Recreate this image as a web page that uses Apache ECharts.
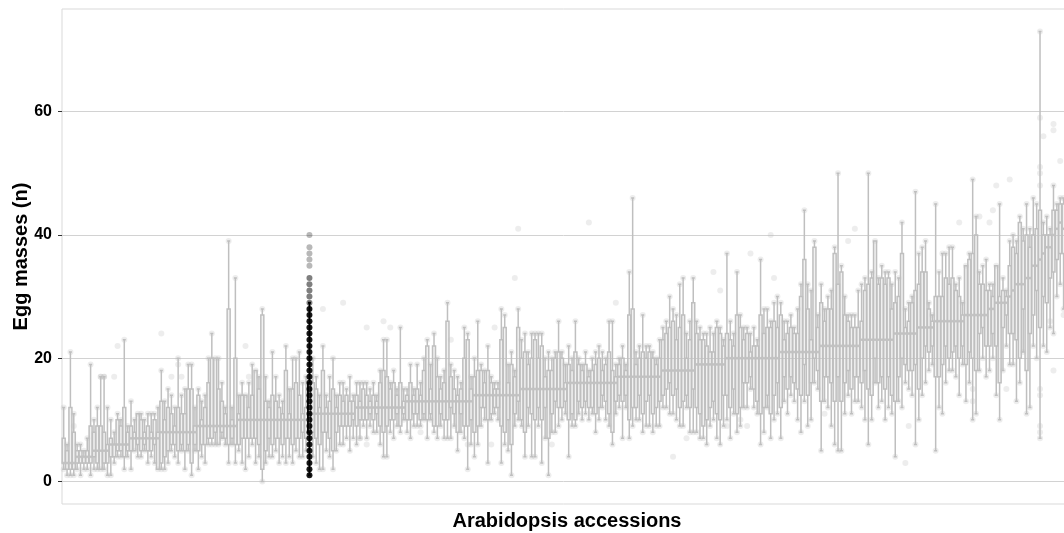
<!DOCTYPE html>
<html>
<head>
<meta charset="utf-8">
<title>Egg masses per Arabidopsis accession</title>
<script src="https://cdn.jsdelivr.net/npm/echarts@6/dist/echarts.min.js"></script>
<style>
  html, body { margin: 0; padding: 0; background: #fff; }
  #chart { width: 1064px; height: 533px; }
</style>
</head>
<body>
<div id="chart"></div>
<script>
// each box: [lower whisker, Q1, median, Q3, upper whisker], accessions sorted by median
const med03 = [[2,3,3,7,12],[1,2,3,5,6],[1,2,3,12,21],[1,2,3,8,11]];
const med04 = [[2,3,4,5,6],[1,3,4,5,6],[2,3,4,4,5],[2,3,4,5,7],[1,3,4,9,19]];
const med05 = [[2,4,5,8,10],[2,3,5,9,12],[2,2,5,9,17],[2,3,5,8,17],[1,3,5,6,12]];
const med06 = [[1,4,6,7,10],[3,4,6,6,8],[4,5,6,10,11],[4,5,6,9,10],[2,4,6,12,23],[4,5,6,8,9]];
const med07 = [[2,5,7,9,13],[5,5,7,8,10],[4,6,7,11,11],[4,5,7,10,11],[5,6,7,8,10],[3,5,7,9,11],[4,5,7,8,11],[3,6,7,10,11],[2,2,7,8,12]];
const med08 = [[2,3,8,13,18],[2,4,8,10,13],[3,5,8,12,15],[5,6,8,11,14],[4,6,8,9,12],[3,5,8,12,20],[5,6,8,11,14],[2,5,8,11,15],[5,6,8,15,19],[1,3,8,15,19],[5,6,8,9,12]];
const med09 = [[2,5,9,14,15],[4,6,9,10,13],[3,6,9,12,14],[6,7,9,16,20],[6,7,9,20,24],[6,8,9,20,20],[6,6,9,15,20],[7,8,9,13,16],[6,7,9,11,12],[3,6,9,28,39],[6,7,9,10,12],[3,6,9,20,33]];
const med10 = [[5,6,10,11,14],[3,7,10,14,16],[2,7,10,14,14],[4,7,10,12,16],[6,7,10,14,19],[3,7,10,18,18],[4,6,10,15,17],[0,2,10,27,28],[3,5,10,13,17],[4,7,10,12,13],[4,6,10,14,21],[5,7,10,13,17],[3,7,10,12,14],[4,6,10,11,13],[3,7,10,18,22],[4,7,10,11,15],[3,6,10,15,20],[5,7,10,16,20],[4,7,10,14,21],[4,8,10,11,16],[5,7,10,12,17]];
const med11 = [[4,8,11,16,20],[3,7,11,15,17],[2,6,11,12,14],[2,8,11,18,22],[5,8,11,12,14],[4,7,11,13,17],[2,5,11,15,20],[5,8,11,12,14],[6,9,11,14,16],[6,9,11,13,16],[7,9,11,14,15],[5,9,11,13,17],[7,10,11,13,14]];
const med12 = [[6,9,12,14,16],[7,10,12,13,16],[9,10,12,15,16],[7,10,12,14,16],[9,11,12,13,15],[8,10,12,14,16],[8,11,12,13,14],[6,9,12,16,18],[4,8,12,18,23],[4,9,12,17,23],[8,10,12,15,16],[7,10,12,16,18],[9,11,12,14,15],[8,9,12,16,25],[10,11,12,13,15]];
const med13 = [[8,10,13,14,15],[7,10,13,16,19],[9,11,13,14,15],[9,11,13,15,19],[9,10,13,14,16],[10,11,13,18,20],[7,10,13,22,23],[10,11,13,15,19],[8,9,13,22,24],[7,9,13,17,20],[9,11,13,15,17],[7,10,13,16,18],[7,10,13,26,29],[7,12,13,17,19],[9,11,13,15,18],[5,8,13,14,17],[8,11,13,15,16],[7,9,13,20,25],[2,9,13,23,24],[6,10,13,15,17]];
const med14 = [[4,8,14,17,20],[6,9,14,18,26],[9,12,14,18,19],[10,12,14,16,18],[3,10,14,18,22],[10,11,14,16,17],[11,12,14,15,16],[10,12,14,15,16],[3,9,14,23,28],[6,8,14,25,27],[5,10,14,16,19],[1,6,14,19,21],[9,11,14,17,18],[10,13,14,25,28]];
const med15 = [[9,10,15,20,23],[4,8,15,21,24],[9,12,15,19,21],[4,11,15,20,24],[4,10,15,23,24],[9,12,15,20,24],[3,10,15,22,24],[7,12,15,17,20],[1,7,15,18,21],[8,11,15,18,20],[8,13,15,20,21],[9,12,15,21,26],[10,12,15,20,21],[11,13,15,16,19]];
const med16 = [[4,10,16,19,22],[9,11,16,18,20],[9,10,16,21,26],[11,13,16,19,20],[10,12,16,18,19],[11,13,16,19,21],[10,12,16,17,18],[11,12,16,18,20],[8,11,16,19,21],[10,12,16,20,22],[12,14,16,18,21],[10,13,16,19,20],[9,11,16,21,26],[6,8,16,18,26],[11,13,16,17,19]];
const med17 = [[12,14,17,19,20],[7,13,17,20,22],[12,14,17,18,19],[7,10,17,27,34],[9,12,17,28,46],[10,12,17,19,21],[10,14,17,20,22],[8,11,17,21,27],[9,13,17,20,22],[9,14,17,21,22],[8,11,17,20,21],[9,12,17,19,20],[9,13,17,20,23]];
const med18 = [[12,14,18,23,25],[12,15,18,24,26],[11,16,18,25,30],[11,14,18,26,28],[10,15,18,23,27],[9,12,18,25,32],[9,13,18,27,33],[12,14,18,20,24],[8,12,18,23,26],[8,15,18,29,33]];
const med19 = [[8,12,19,24,26],[7,11,19,23,25],[7,9,19,23,24],[6,10,19,22,24],[9,12,19,21,25],[10,13,19,21,24],[7,11,19,25,26],[6,10,19,24,25],[9,14,19,22,23]];
const med20 = [[10,14,20,24,37],[7,12,20,23,26],[11,15,20,22,24],[8,11,20,27,34],[9,12,20,25,27],[12,16,20,23,25],[12,16,20,24,25],[15,17,20,21,24],[12,15,20,22,25],[11,13,20,22,23],[6,11,20,27,36],[8,12,20,24,28],[12,14,20,25,28],[7,11,20,25,26],[10,14,20,26,29],[11,16,20,25,30]];
const med21 = [[7,12,21,27,29],[13,17,21,23,26],[11,15,21,24,26],[14,17,21,25,27],[13,16,21,24,25],[10,15,21,24,28],[8,14,21,30,32],[13,19,21,36,44],[9,14,21,28,32],[10,16,21,23,31],[16,20,21,38,39],[15,18,21,25,27]];
const med22 = [[5,13,22,29,32],[13,17,22,26,28],[12,17,22,28,30],[9,16,22,28,31],[6,13,22,37,38],[5,17,22,32,50],[5,13,22,34,35],[11,16,22,27,30],[14,18,22,26,27],[11,15,22,25,27],[13,17,22,25,27],[13,17,22,25,31]];
const med23 = [[12,16,23,26,32],[10,18,23,31,33],[6,15,23,32,50],[10,14,23,33,34],[16,20,23,39,39],[12,16,23,32,33],[13,17,23,33,35],[10,15,23,32,34],[12,17,23,33,34],[11,14,23,28,32]];
const med24 = [[4,13,24,29,34],[13,17,24,30,33],[12,20,24,37,42],[16,19,24,25,28],[15,18,24,26,29],[14,18,24,29,30],[6,19,24,31,47]];
const med25 = [[10,15,25,32,37],[14,20,25,34,38],[16,22,25,34,39],[18,21,25,28,29],[19,22,25,26,27]];
const med26 = [[5,17,26,30,45],[12,17,26,30,34],[11,19,26,30,37],[16,22,26,33,37],[18,20,26,32,38],[18,21,26,33,38],[17,22,26,31,32],[14,20,26,30,33],[19,22,26,27,29]];
const med27 = [[13,19,27,35,35],[16,21,27,36,37],[10,20,27,37,49],[11,18,27,40,43],[18,24,27,32,34],[20,25,27,32,35],[17,22,27,31,36]];
const med28 = [[18,22,28,31,32],[20,24,28,30,32],[14,22,29,35,35],[10,16,29,30,45],[18,25,29,31,33],[22,27,29,30,31]];
const med32 = [[19,24,30,35,39],[19,24,31,38,40],[13,23,32,37,39],[16,20,32,42,43],[21,28,32,39,41]];
const med33 = [[11,18,33,40,45],[12,24,33,38,41],[22,27,35,40,46],[20,31,35,41,45],[7,25,36,44,73],[22,30,37,40,42],[21,29,38,40,43],[25,33,38,40,41],[24,34,40,44,48],[30,36,41,44,45],[32,37,42,45,46],[28,37,41,45,46],[30,35,40,43,46],[31,36,41,44,47]];

// the highlighted accession (drawn in black, all its observations shown)
const highlightBox = [1, 8, 11, 16, 29];
const highlightDark = [1,2,3,4,5,6,7,8,9,10,11,12,13,14,15,16,17,18,19,20,21,22,23,24,25,26,27,28];
const highlightMid = [29,30,31,32,33];
const highlightLight = [35,36,37,38,40];

// points outside the whiskers (accession position, value)
const outlierIdx = [3,11,12,15,16,29,32,34,35,54,55,77,83,88,90,90,95,97,106,115,120,127,128,134,135,145,156,164,181,185,193,195,197,201,203,204,210,211,226,233,235,250,251,266,270,270,272,275,276,277,280,281,290,290,290,290,290,290,290,290,291,293,294,294,294,296,297];
const outlierVal = [9,17,17,17,22,24,17,19,17,22,17,28,29,7,6,25,26,25,8,23,6,6,25,33,41,6,42,29,4,7,34,31,9,10,9,37,40,33,11,39,41,3,9,42,13,15,43,42,44,48,15,49,59,51,50,48,15,14,9,8,56,26,58,57,18,52,27];

const yTicks = [0, 20, 40, 60];

const FONT = "'Liberation Sans', Arial, sans-serif";
const chart = echarts.init(document.getElementById('chart'));

let boxes = [].concat(med03, med04, med05, med06, med07, med08, med09, med10);
const highlightIndex = boxes.length;
boxes.push(highlightBox);
boxes = boxes.concat(med11, med12, med13, med14, med15, med16, med17, med18, med19, med20,
  med21, med22, med23, med24, med25, med26, med27, med28, med32, med33);

const categories = boxes.map((b, i) => 'Accession ' + (i + 1));

const boxData = boxes.map((b, i) => i === highlightIndex
  ? { value: b, itemStyle: { borderColor: '#000', borderWidth: 1.8, color: 'rgba(0,0,0,0)' } }
  : b);

// observations sitting at the whisker ends
const endPoints = [];
const medianMarks = [];
boxes.forEach((b, i) => {
  if (i !== highlightIndex) {
    endPoints.push([i, b[0]], [i, b[4]]);
    medianMarks.push([i, b[2]]);
  }
});
const outliers = outlierIdx.map((x, k) => [x, outlierVal[k]]);

const hlPoints = [].concat(
  highlightDark.map((v) => ({ value: [highlightIndex, v], itemStyle: { opacity: 0.9 } })),
  highlightMid.map((v) => ({ value: [highlightIndex, v], itemStyle: { opacity: 0.5 } })),
  highlightLight.map((v) => ({ value: [highlightIndex, v], itemStyle: { opacity: 0.28 } }))
);

const option = {
  animation: false,
  backgroundColor: '#fff',
  grid: {
    left: 62,
    right: -8,
    top: 9,
    bottom: 29,
    containLabel: false,
    outerBoundsMode: 'none',
    show: true,
    borderColor: '#d9d9d9',
    borderWidth: 1,
  },
  xAxis: {
    type: 'category',
    data: categories,
    boundaryGap: true,
    name: 'Arabidopsis accessions',
    nameLocation: 'middle',
    nameGap: 7,
    nameTextStyle: { fontSize: 20, fontWeight: 'bold', color: '#000', fontFamily: FONT },
    axisLine: { show: false },
    axisTick: { show: false },
    axisLabel: { show: false },
    splitLine: { show: false },
  },
  yAxis: {
    type: 'value',
    min: -3.65,
    max: 76.65,
    name: 'Egg masses (n)',
    nameLocation: 'middle',
    nameGap: 31,
    nameMoveOverlap: false,
    nameTextStyle: { fontSize: 20, fontWeight: 'bold', color: '#000', fontFamily: FONT },
    axisLine: { show: false },
    axisTick: { show: true, length: 4, lineStyle: { color: '#333' }, customValues: yTicks },
    axisLabel: {
      customValues: yTicks,
      fontSize: 16,
      fontWeight: 'bold',
      color: '#000',
      margin: 10,
      fontFamily: FONT,
    },
    splitLine: { lineStyle: { color: '#d2d2d2', width: 1 } },
  },
  series: [
    {
      type: 'scatter',
      data: outliers.concat(endPoints),
      symbolSize: 6,
      itemStyle: { color: 'rgba(185,185,185,0.32)' },
      silent: true,
      z: 1,
    },
    {
      type: 'boxplot',
      data: boxData,
      boxWidth: [3, 3],
      itemStyle: { color: 'rgba(200,200,200,0.25)', borderColor: '#bfbfbf', borderWidth: 1.5 },
      silent: true,
      z: 2,
    },
    {
      // thicker median bars, as in the original plot
      type: 'scatter',
      data: medianMarks,
      symbol: 'rect',
      symbolSize: [4, 2.6],
      itemStyle: { color: '#c2c2c2' },
      silent: true,
      z: 2,
    },
    {
      type: 'scatter',
      data: hlPoints,
      symbolSize: 6,
      itemStyle: { color: '#000' },
      silent: true,
      z: 3,
    },
  ],
};

chart.setOption(option);
</script>
</body>
</html>
